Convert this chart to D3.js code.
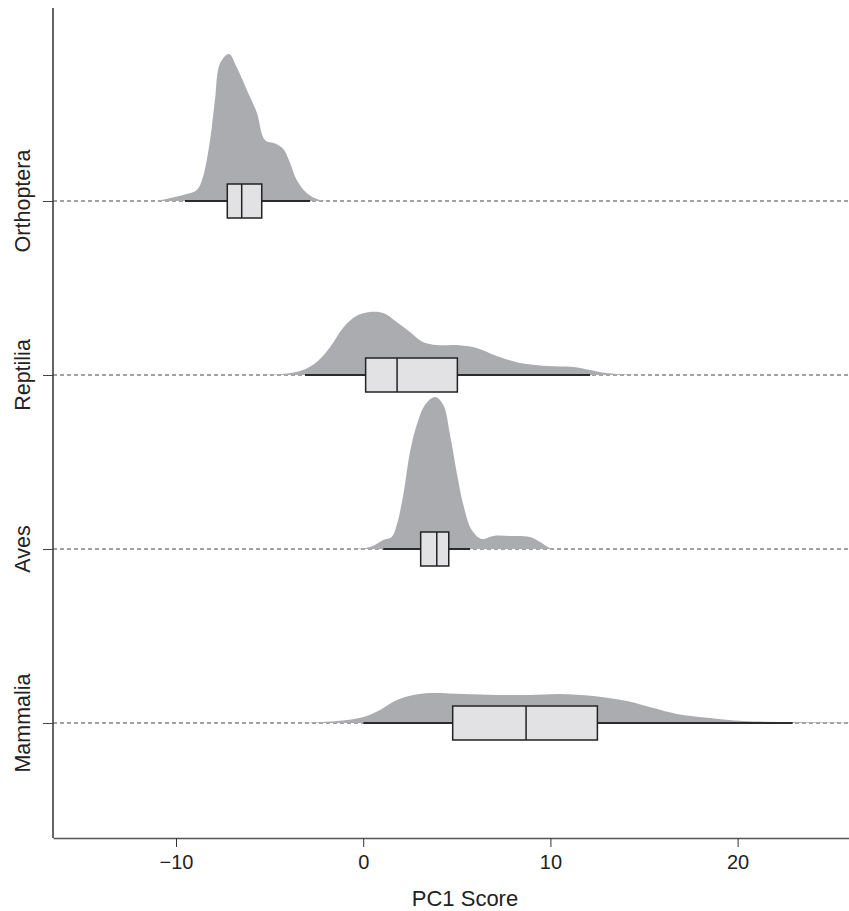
<!DOCTYPE html>
<html>
<head>
<meta charset="utf-8">
<script src="https://cdn.jsdelivr.net/npm/d3@7"></script>
<style>
  body { margin: 0; background: #fff; overflow: hidden; }
  text { font-family: "Liberation Sans", Arial, sans-serif; fill: #222; }
</style>
</head>
<body>
<div id="chart"></div>
<script>
// categories, top to bottom
const groups = ['Orthoptera', 'Reptilia', 'Aves', 'Mammalia'];

// density curves: x = PC1 score, h = scaled density (1 = one row spacing)
const orthopteraX = [-11.0, -9.63, -8.89, -8.56, -8.18, -7.92, -7.65, -7.17, -6.76, -6.22, -5.69, -5.25, -4.71, -4.28, -3.91, -3.55, -3.02, -2.31, -1.35];
const orthopteraH = [0, 0.034, 0.063, 0.138, 0.35, 0.58, 0.79, 0.845, 0.77, 0.64, 0.51, 0.35, 0.33, 0.30, 0.22, 0.12, 0.046, 0.006, 0];

const reptiliaX = [-5.89, -4.27, -3.22, -2.48, -1.77, -1.08, -0.35, 0.36, 1.06, 1.79, 2.50, 3.19, 3.93, 4.99, 6.06, 7.13, 8.38, 9.80, 11.22, 12.11, 13.0, 14.08, 14.79];
const reptiliaH = [0, 0.006, 0.029, 0.075, 0.16, 0.27, 0.34, 0.362, 0.356, 0.305, 0.247, 0.19, 0.172, 0.172, 0.155, 0.109, 0.069, 0.052, 0.046, 0.029, 0.011, 0.003, 0];

const avesX = [-0.53, 0.36, 1.07, 1.52, 1.79, 2.14, 2.50, 2.86, 3.30, 3.84, 4.28, 4.64, 4.99, 5.35, 5.80, 6.33, 6.95, 7.84, 8.91, 9.45, 9.98, 10.62];
const avesH = [0, 0.011, 0.052, 0.069, 0.138, 0.31, 0.557, 0.713, 0.828, 0.874, 0.828, 0.655, 0.443, 0.253, 0.109, 0.057, 0.075, 0.075, 0.069, 0.04, 0.006, 0];

const mammaliaX = [-4.27, -2.67, -0.88, 0.01, 0.90, 1.79, 2.68, 3.57, 5.35, 7.13, 8.91, 10.51, 12.29, 14.08, 15.50, 16.75, 18.53, 20.30, 22.97, 25.83, 27.0];
const mammaliaH = [0, 0.003, 0.017, 0.034, 0.075, 0.132, 0.161, 0.172, 0.167, 0.161, 0.161, 0.167, 0.155, 0.126, 0.086, 0.052, 0.029, 0.011, 0.006, 0.002, 0];

// boxplot stats: [whisker low, Q1, median, Q3, whisker high]
const orthopteraBox = [-9.52, -7.26, -6.49, -5.42, -2.84];
const reptiliaBox = [-3.11, 0.13, 1.81, 5.03, 12.12];
const avesBox = [1.07, 3.07, 3.93, 4.57, 5.71];
const mammaliaBox = [0.01, 4.78, 8.70, 12.51, 22.94];

const xTicks = [-10, 0, 10, 20];
const xTitle = 'PC1 Score';

const series = [
  { name: 'Orthoptera', x: orthopteraX, h: orthopteraH, box: orthopteraBox },
  { name: 'Reptilia', x: reptiliaX, h: reptiliaH, box: reptiliaBox },
  { name: 'Aves', x: avesX, h: avesH, box: avesBox },
  { name: 'Mammalia', x: mammaliaX, h: mammaliaH, box: mammaliaBox },
];

const width = 849;
const height = 911;
const margin = { top: 8, right: 0, bottom: 73, left: 53 };

const svg = d3.select('#chart')
  .append('svg')
  .attr('width', width)
  .attr('height', height);

svg.append('defs').append('clipPath').attr('id', 'plot')
  .append('rect')
  .attr('x', margin.left).attr('y', 0)
  .attr('width', width - margin.left).attr('height', height - margin.bottom);

const xScale = d3.scaleLinear().domain([-16.57, 25.95]).range([margin.left, width - margin.right]);
const yScale = d3.scalePoint().domain(groups).range([201, 723]);
const hScale = d3.scaleLinear().domain([0, 1]).range([0, 174]);

const plot = svg.append('g').attr('clip-path', 'url(#plot)');

// dashed baselines
plot.append('g')
  .selectAll('line')
  .data(groups)
  .join('line')
  .attr('x1', margin.left)
  .attr('x2', width)
  .attr('y1', (d) => yScale(d))
  .attr('y2', (d) => yScale(d))
  .attr('stroke', '#444')
  .attr('stroke-width', 1)
  .attr('stroke-dasharray', '4,3');

const boxHalf = 17;

series.forEach((s) => {
  const base = yScale(s.name);
  const pts = s.x.map((v, i) => [v, s.h[i]]);

  const area = d3.area()
    .x((d) => xScale(d[0]))
    .y0(base)
    .y1((d) => Math.min(base, base - hScale(d[1])))
    .curve(d3.curveCatmullRom.alpha(0.5));

  const g = plot.append('g');

  g.append('path')
    .datum(pts)
    .attr('d', area)
    .attr('fill', '#abacaf');

  const [lo, q1, med, q3, hi] = s.box;

  // whisker
  g.append('line')
    .attr('x1', xScale(lo)).attr('x2', xScale(hi))
    .attr('y1', base).attr('y2', base)
    .attr('stroke', '#2b2b2b')
    .attr('stroke-width', 2);

  // box
  g.append('rect')
    .attr('x', xScale(q1))
    .attr('y', base - boxHalf)
    .attr('width', xScale(q3) - xScale(q1))
    .attr('height', boxHalf * 2)
    .attr('fill', '#e2e2e4')
    .attr('stroke', '#222')
    .attr('stroke-width', 1.5);

  // median
  g.append('line')
    .attr('x1', xScale(med)).attr('x2', xScale(med))
    .attr('y1', base - boxHalf).attr('y2', base + boxHalf)
    .attr('stroke', '#222')
    .attr('stroke-width', 1.5);
});

// axes
const xAxis = svg.append('g')
  .attr('transform', `translate(0, ${838})`)
  .call(d3.axisBottom(xScale).tickValues(xTicks).tickSize(9).tickSizeOuter(0)
    .tickFormat((d) => (d < 0 ? '\u2212' + Math.abs(d) : d)));
xAxis.select('.domain').attr('stroke', '#555').attr('stroke-width', 1.5);
xAxis.selectAll('.tick line').attr('stroke', '#333');
xAxis.selectAll('.tick text')
  .attr('font-size', 20)
  .attr('font-family', '"Liberation Sans", Arial, sans-serif')
  .attr('fill', '#222')
  .attr('dy', '0.95em');

const yAxis = svg.append('g')
  .attr('transform', `translate(${margin.left}, 0)`)
  .call(d3.axisLeft(yScale).tickSize(10).tickSizeOuter(0).tickFormat(''));
yAxis.select('.domain').attr('d', `M0,8V838`).attr('stroke', '#333').attr('stroke-width', 1.5);
yAxis.selectAll('.tick line').attr('stroke', '#444');

// y labels, rotated
svg.append('g')
  .selectAll('text')
  .data(groups)
  .join('text')
  .attr('transform', (d) => `translate(30, ${yScale(d)}) rotate(-90)`)
  .attr('text-anchor', 'middle')
  .attr('font-size', 21.5)
  .text((d) => d);

svg.append('text')
  .attr('x', 465)
  .attr('y', 906)
  .attr('text-anchor', 'middle')
  .attr('font-size', 22)
  .text(xTitle);
</script>
</body>
</html>
